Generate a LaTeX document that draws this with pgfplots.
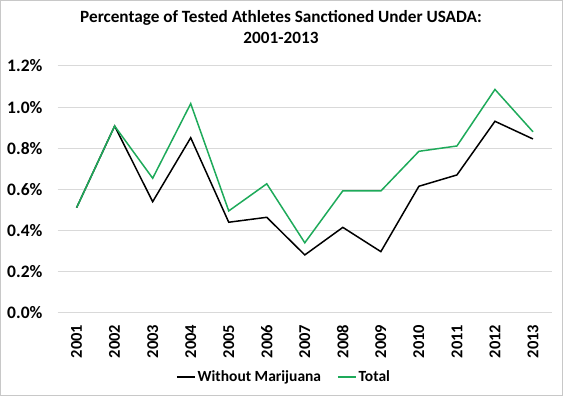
\documentclass[border=0pt]{standalone}
\usepackage{fontspec}
\setmainfont{Carlito}
\usepackage{pgfplots}
\pgfplotsset{compat=1.18}
\definecolor{grn}{RGB}{30,170,90}
\definecolor{gridc}{RGB}{217,217,217}
\definecolor{brd}{RGB}{200,200,200}
\begin{document}
\begin{tikzpicture}[x=1pt,y=1pt]
\useasboundingbox (0,0) rectangle (563,396);
\draw[brd, line width=1.2pt] (0.6,0.6) rectangle (562.4,395.4);
\node[font=\fontsize{17.2}{21}\selectfont\bfseries, align=center, anchor=base] at (281,352) {Percentage of Tested Athletes Sanctioned Under USADA:\\2001-2013};
\begin{axis}[
  at={(57.6pt,83.3pt)}, anchor=south west,
  width=494.4pt, height=246.7pt, scale only axis,
  xmin=-0.5, xmax=12.5, ymin=0, ymax=1.2,
  xtick={0,...,12},
  xticklabels={2001,2002,2003,2004,2005,2006,2007,2008,2009,2010,2011,2012,2013},
  ytick={0,0.2,0.4,0.6,0.8,1.0,1.2},
  yticklabel={\pgfmathprintnumber[fixed,fixed zerofill,precision=1]{\tick}\%},
  /pgf/number format/assume math mode=true,
  ymajorgrids, grid style={gridc, line width=1pt},
  axis line style={draw=none}, tick style={draw=none},
  tick label style={font=\fontsize{16.5}{18}\selectfont\bfseries},
  xticklabel style={rotate=90, anchor=east, inner sep=0pt},
  xticklabel shift={12pt},
  yticklabel style={inner sep=0pt, font=\fontsize{17.5}{18}\selectfont\bfseries},
  yticklabel shift={15pt},
  legend style={at={(0.458,-0.261)}, anchor=center, draw=none, font=\fontsize{15.5}{18}\selectfont\bfseries, legend columns=2, /tikz/every even column/.append style={column sep=14pt}, inner sep=0pt},
  legend image code/.code={\draw[#1, line width=1.5pt] (0pt,0pt) -- (18pt,0pt);},
]
\addplot[black, line width=1.5pt] coordinates {
(0,0.511) (1,0.908) (2,0.540) (3,0.851) (4,0.440) (5,0.464) (6,0.281) (7,0.415) (8,0.297) (9,0.615) (10,0.670) (11,0.931) (12,0.845)};
\addlegendentry{Without Marijuana}
\addplot[grn, line width=1.5pt] coordinates {
(0,0.511) (1,0.908) (2,0.654) (3,1.017) (4,0.495) (5,0.627) (6,0.340) (7,0.593) (8,0.592) (9,0.785) (10,0.811) (11,1.086) (12,0.880)};
\addlegendentry{Total}
\end{axis}
\end{tikzpicture}
\end{document}
